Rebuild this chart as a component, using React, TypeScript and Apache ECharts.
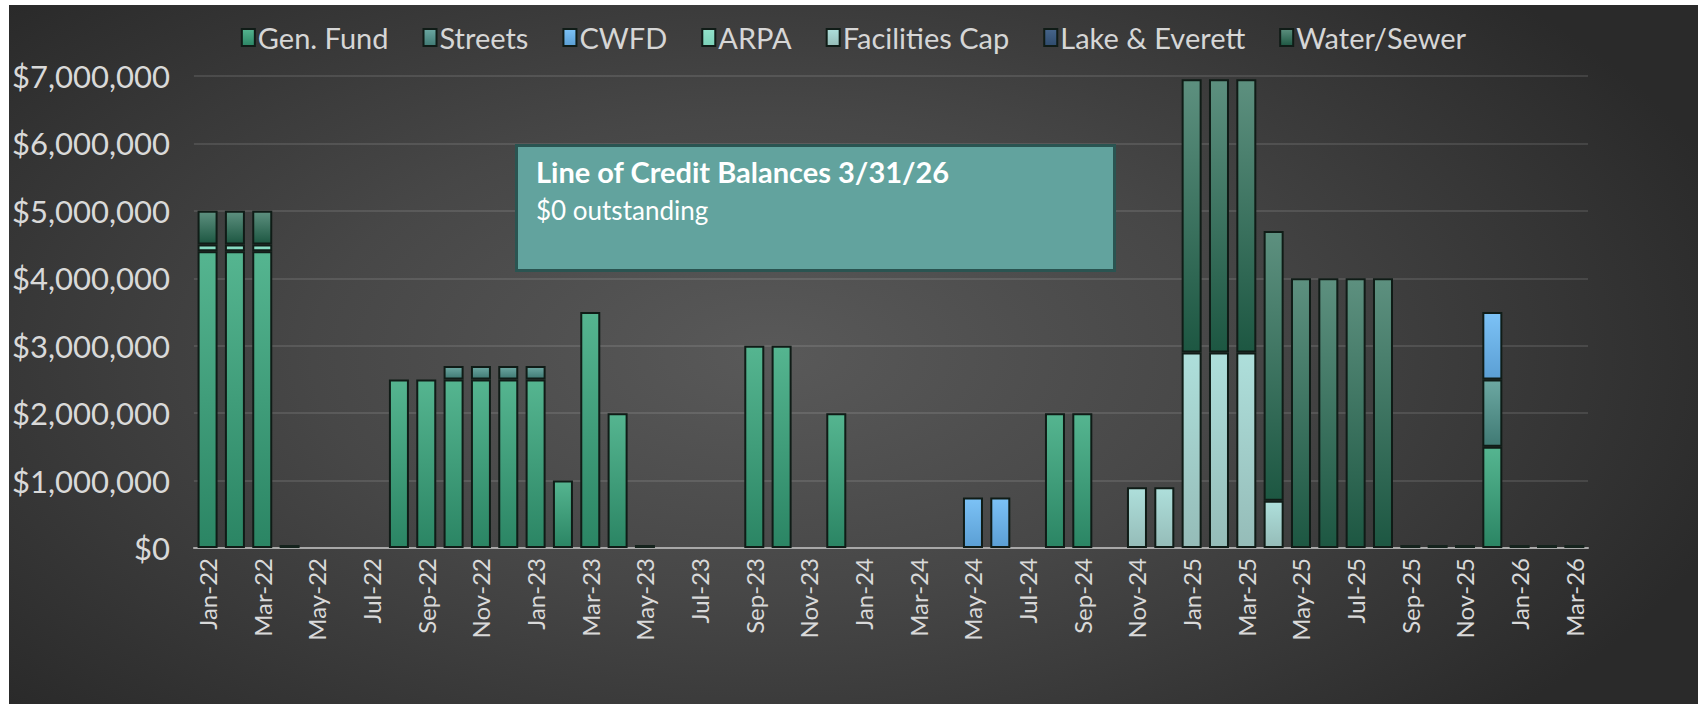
import React, { useEffect, useRef } from "react";
import * as echarts from "echarts";

const months = [
  "Jan-22","Feb-22","Mar-22","Apr-22","May-22","Jun-22","Jul-22","Aug-22","Sep-22","Oct-22","Nov-22","Dec-22",
  "Jan-23","Feb-23","Mar-23","Apr-23","May-23","Jun-23","Jul-23","Aug-23","Sep-23","Oct-23","Nov-23","Dec-23",
  "Jan-24","Feb-24","Mar-24","Apr-24","May-24","Jun-24","Jul-24","Aug-24","Sep-24","Oct-24","Nov-24","Dec-24",
  "Jan-25","Feb-25","Mar-25","Apr-25","May-25","Jun-25","Jul-25","Aug-25","Sep-25","Oct-25","Nov-25","Dec-25",
  "Jan-26","Feb-26","Mar-26",
];

const N = null;
// Jan-22 ... Mar-26 (51 months)
const genFund = [
  4400000, 4400000, 4400000, 0, N, N, N, 2500000, 2500000, 2500000, 2500000, 2500000,
  2500000, 1000000, 3500000, 2000000, 0, N, N, N, 3000000, 3000000, N, 2000000,
  N, N, N, N, N, N, N, 2000000, 2000000, N, N, N,
  N, N, N, N, N, N, N, N, 0, 0, 0, 1500000,
  0, 0, 0,
];
const streets = [
  N, N, N, N, N, N, N, N, N, 200000, 200000, 200000,
  200000, N, N, N, N, N, N, N, N, N, N, N,
  N, N, N, N, N, N, N, N, N, N, N, N,
  N, N, N, N, N, N, N, N, N, N, N, 1000000,
  N, N, N,
];
const cwfd = [
  N, N, N, N, N, N, N, N, N, N, N, N,
  N, N, N, N, N, N, N, N, N, N, N, N,
  N, N, N, N, 750000, 750000, N, N, N, N, N, N,
  N, N, N, N, N, N, N, N, N, N, N, 1000000,
  N, N, N,
];
const arpa = [
  100000, 100000, 100000, N, N, N, N, N, N, N, N, N,
  N, N, N, N, N, N, N, N, N, N, N, N,
  N, N, N, N, N, N, N, N, N, N, N, N,
  N, N, N, N, N, N, N, N, N, N, N, N,
  N, N, N,
];
const facilitiesCap = [
  N, N, N, N, N, N, N, N, N, N, N, N,
  N, N, N, N, N, N, N, N, N, N, N, N,
  N, N, N, N, N, N, N, N, N, N, 900000, 900000,
  2900000, 2900000, 2900000, 700000, N, N, N, N, N, N, N, N,
  N, N, N,
];
const lakeEverett = [
  N, N, N, N, N, N, N, N, N, N, N, N,
  N, N, N, N, N, N, N, N, N, N, N, N,
  N, N, N, N, N, N, N, N, N, N, N, N,
  N, N, N, N, N, N, N, N, N, N, N, N,
  N, N, N,
];
const waterSewer = [
  500000, 500000, 500000, N, N, N, N, N, N, N, N, N,
  N, N, N, N, N, N, N, N, N, N, N, N,
  N, N, N, N, N, N, N, N, N, N, N, N,
  4050000, 4050000, 4050000, 4000000, 4000000, 4000000, 4000000, 4000000, N, N, N, N,
  N, N, N,
];

const yTicks = [0, 1000000, 2000000, 3000000, 4000000, 5000000, 6000000, 7000000];

const seriesDefs = [
  { name: "Gen. Fund", data: genFund, top: "#55b590", bottom: "#2b8564" },
  { name: "Streets", data: streets, top: "#6ca8a2", bottom: "#407a74" },
  { name: "CWFD", data: cwfd, top: "#7cc2f6", bottom: "#5b9fd4" },
  { name: "ARPA", data: arpa, top: "#92e2ca", bottom: "#7bd2b8" },
  { name: "Facilities Cap", data: facilitiesCap, top: "#aedfdb", bottom: "#95bcb8" },
  { name: "Lake & Everett", data: lakeEverett, top: "#46658a", bottom: "#2f4b6d" },
  { name: "Water/Sewer", data: waterSewer, top: "#5d907f", bottom: "#1d5742" },
];

const FONT = "Lato, 'Open Sans', sans-serif";

export default function App() {
  const ref = useRef<HTMLDivElement>(null);
  useEffect(() => {
    if (!ref.current) return;
    const chart = echarts.init(ref.current, null, { renderer: "svg" });
    const grad = (top: string, bottom: string) =>
      new echarts.graphic.LinearGradient(0, 0, 0, 1, [
        { offset: 0, color: top },
        { offset: 1, color: bottom },
      ]);
    const series = seriesDefs.map((s, si) => ({
      name: s.name,
      type: "bar",
      stack: "total",
      barWidth: 20,
      barMinHeight: si === 0 ? 3 : 0,
      data: s.data.map((v) =>
        v === 0 ? { value: 0, itemStyle: { color: "#15231d", borderColor: "#15231d" } } : v
      ),
      itemStyle: {
        color: grad(s.top, s.bottom),
        borderColor: "#101c17",
        borderWidth: 2,
      },
      emphasis: { disabled: true },
    }));
    chart.setOption({
      animation: false,
      backgroundColor: "transparent",
      textStyle: { fontFamily: FONT },
      legend: {
        top: 13,
        left: "center",
        itemWidth: 13,
        itemHeight: 17,
        itemGap: 34,
        icon: "rect",
        textStyle: { color: "#d6d6d6", fontSize: 29, fontFamily: FONT, padding: [0, 0, 0, -2] },
        data: seriesDefs.map((s) => s.name),
      },
      grid: { left: 184, right: 110, top: 71, bottom: 156, containLabel: false },
      xAxis: {
        type: "category",
        data: months,
        axisLine: { show: true, lineStyle: { color: "#a8a8a8", width: 2 } },
        axisTick: { show: false },
        axisLabel: {
          interval: 1,
          rotate: 90,
          color: "#d9d9d9",
          fontSize: 24,
          fontFamily: FONT,
          margin: 10,
        },
      },
      yAxis: {
        type: "value",
        min: 0,
        max: 7000000,
        interval: 1000000,
        axisLine: { show: false },
        axisTick: { show: false },
        splitLine: { lineStyle: { color: "rgba(255,255,255,0.14)", width: 1.5 } },
        axisLabel: {
          color: "#d9d9d9",
          fontSize: 31,
          fontFamily: FONT,
          margin: 24,
          formatter: (v: number) =>
            yTicks.includes(v) ? "$" + v.toLocaleString("en-US") : "",
        },
      },
      graphic: [
        {
          type: "rect",
          left: 506,
          top: 139,
          shape: { width: 598, height: 125 },
          style: { fill: "#62a39e", stroke: "#2a5451", lineWidth: 3 },
          z: 100,
        },
        {
          type: "text",
          left: 527,
          top: 152,
          style: {
            text: "Line of Credit Balances 3/31/26",
            fill: "#ffffff",
            font: "bold 29px " + FONT,
          },
          z: 101,
        },
        {
          type: "text",
          left: 527,
          top: 192,
          style: {
            text: "$0 outstanding",
            fill: "#ffffff",
            font: "26px " + FONT,
          },
          z: 101,
        },
      ],
      series,
    });
    return () => chart.dispose();
  }, []);
  return (
    <div
      ref={ref}
      style={{
        position: "absolute",
        left: 9,
        top: 5,
        width: 1689,
        height: 699,
        background:
          "radial-gradient(ellipse 60% 75% at 45% 50%, #595959 0%, #474747 45%, #2a2a2a 100%)",
      }}
    />
  );
}
